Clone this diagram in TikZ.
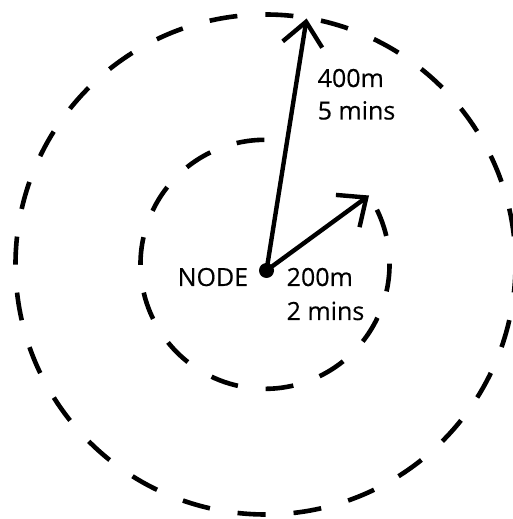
\documentclass[tikz,border=0pt]{standalone}
\usepackage{fontspec}
\setmainfont{Open Sans}
\newfontfamily\labelfont{Open Sans}[FakeBold=0.3]
\usetikzlibrary{arrows.meta}
\begin{document}
\begin{tikzpicture}[x=1pt,y=1pt,
  outer ring/.style={line width=4.6pt,dash pattern=on 28.05pt off 28.05pt},
  inner ring/.style={line width=4.6pt,dash pattern=on 27.94pt off 27.94pt},
  radius arrow/.style={line width=4.4pt,-{Straight Barb[length=23pt,width=40pt]}},
  label/.style={inner sep=0pt,anchor=base west,font=\labelfont\fontsize{25}{25}\selectfont}]
\useasboundingbox (0,0) rectangle (512,519);
\coordinate (oc) at (265.5,254.5);
\coordinate (ic) at (265,254.7);
\draw[outer ring] (oc) ++(0:250) arc[start angle=0,end angle=-360,radius=250];
\draw[inner ring] (ic) ++(26:124.5) arc[start angle=26,end angle=-270,radius=124.5];
\node[circle,fill=black,inner sep=0pt,minimum size=15pt] (node) at (266.5,248.5) {};
\coordinate (tip400) at (306.6,500.5);
\coordinate (tip200) at (369,323.5);
\draw[radius arrow] (node.center) -- (tip400);
\draw[radius arrow] (node.center) -- (tip200);
\node[label] (nodelabel) at (177.5,233) {NODE};
\node[label] (d200) at (286.5,233) {200m};
\node[label] (t200) at (286.5,199) {2 mins};
\node[label] (d400) at (317.5,432) {400m};
\node[label] (t400) at (317.5,399.5) {5 mins};
\end{tikzpicture}
\end{document}
